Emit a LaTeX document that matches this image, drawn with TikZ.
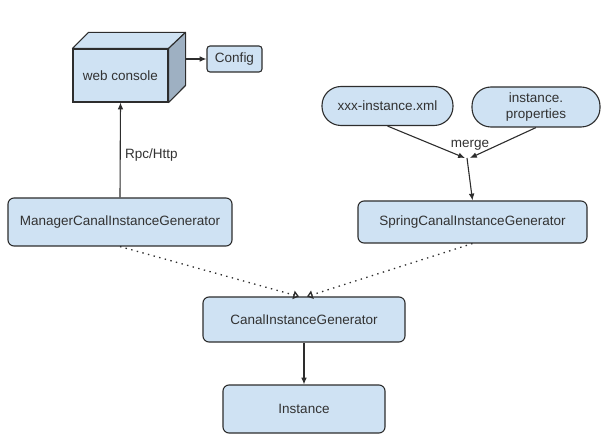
\documentclass[tikz,border=0pt]{standalone}
\usepackage{fontspec}
\setmainfont{Liberation Sans}
\usetikzlibrary{arrows.meta}
\definecolor{boxblue}{RGB}{207,226,243}
\definecolor{sideblue}{RGB}{158,176,194}
\definecolor{linegray}{RGB}{45,45,45}
\definecolor{textgray}{RGB}{50,50,50}
\tikzset{%
  >={Latex[width=2mm,length=2.4mm]},
  % Specifications for style of nodes:
        base/.style = {rectangle, rounded corners=6pt, draw=linegray,
                       line width=1.1pt, fill=boxblue, text=textgray,
                       text centered, inner sep=0pt},
   generator/.style = {base, minimum height=45pt},
     stadium/.style = {base, rounded corners=19pt, minimum height=39pt,
                       align=center},
        cube/.style = {base, rounded corners=0pt, minimum width=95pt,
                       minimum height=53pt},
    realizes/.style = {draw=linegray, line width=1.3pt,
                       dash pattern=on 1.4pt off 4.4pt,
                       -{Triangle[open,width=3mm,length=2mm]}},
}

\begin{document}
\begin{tikzpicture}[x=1pt, y=-1pt, node distance=89.5pt,
    every node/.style={font=\fontsize{13.5}{16}\selectfont},
    line width=1.1pt, draw=linegray]
  \useasboundingbox (0,0) rectangle (606,441);
  % Specification of nodes (position, etc.)
  \node (console)  [cube] at (120.5,75.5)                   {web console};
  \node (config)   [base, rounded corners=3pt, minimum width=55pt,
                    minimum height=26pt] at (234.5,59)      {Config};
  \node (manager)  [generator, minimum width=224pt, minimum height=48pt]
                   at (120,222)                             {ManagerCanalInstanceGenerator};
  \node (xml)      [stadium, minimum width=131pt] at (387.5,106) {xxx-instance.xml};
  \node (props)    [stadium, minimum width=128pt, minimum height=40pt]
                   at (536,107)                             {instance.\\properties};
  \node (spring)   [generator, minimum width=229pt, minimum height=42pt]
                   at (472.5,222)                           {SpringCanalInstanceGenerator};
  \node (canal)    [generator, minimum width=202pt] at (304,319.5) {CanalInstanceGenerator};
  \node (instance) [generator, minimum width=162pt, minimum height=48pt,
                    below of=canal]                         {Instance};

  % the box of the web console
  \draw[fill=boxblue, line join=round] (console.north west) -- ++(16,-16)
     -- ++(97,0) -- (console.north east) -- cycle;
  \draw[fill=sideblue, line join=round] (console.north east) -- ++(17,-16)
     -- ++(0,53) -- (console.south east) -- cycle;
  \coordinate (back) at ([xshift=17pt]console.east);
  \coordinate (merge) at (467,158);

  \draw[->] (back |- config.west) -- (config.west);
  \draw[->] (manager.north) -- node[pos=0.45, right=1pt, text=textgray]
     {Rpc/Http} (console.south);
  \draw[->] (xml.south) -- ([xshift=-2pt]merge);
  \draw[->] (props.south) -- ([xshift=3pt]merge);
  \node (mergelabel) [text=textgray] at (470,145) {merge};
  \draw[->] (merge) -- (spring.north);
  \draw[->] (canal.south) -- (instance.north);
  \draw[realizes] (manager.south) -- ([xshift=-5pt]canal.north);
  \draw[realizes] (spring.south) -- ([xshift=3pt]canal.north);
\end{tikzpicture}
\end{document}
